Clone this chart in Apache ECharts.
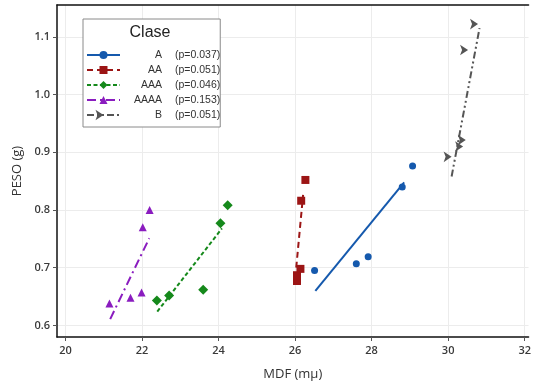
<!DOCTYPE html>
<html>
<head>
<meta charset="utf-8">
<script src="https://cdn.jsdelivr.net/npm/echarts@6/dist/echarts.min.js"></script>
<style>
html, body { margin: 0; padding: 0; background: #fff; }
#main { width: 534px; height: 389px; }
</style>
</head>
<body>
<div id="main"></div>
<script>
// classes, p-values and colours
const classNames = ['A', 'AA', 'AAA', 'AAAA', 'B'];
const pValues = ['(p=0.037)', '(p=0.051)', '(p=0.046)', '(p=0.153)', '(p=0.051)'];

// measured points [MDF, PESO]
const ptsA = [[26.51, 0.695], [27.60, 0.707], [27.91, 0.719], [28.80, 0.840], [29.07, 0.876]];
const ptsAA = [[26.05, 0.677], [26.05, 0.687], [26.14, 0.698], [26.16, 0.816], [26.27, 0.852]];
const ptsAAA = [[22.39, 0.643], [22.71, 0.652], [23.60, 0.662], [24.05, 0.777], [24.24, 0.808]];
const ptsAAAA = [[21.15, 0.638], [21.70, 0.648], [21.99, 0.657], [22.02, 0.770], [22.20, 0.800]];
const ptsB = [[30.09, 0.892], [30.39, 0.910], [30.46, 0.921], [30.52, 1.077], [30.78, 1.122]];

// fitted lines, end points
const fitA = [[26.53, 0.660], [28.85, 0.848]];
const fitAA = [[26.03, 0.700], [26.21, 0.826]];
const fitAAA = [[22.40, 0.624], [24.09, 0.768]];
const fitAAAA = [[21.17, 0.611], [22.19, 0.751]];
const fitB = [[30.09, 0.858], [30.82, 1.115]];

const xTicks = [20, 22, 24, 26, 28, 30, 32];
const yTicks = [0.6, 0.7, 0.8, 0.9, 1.0, 1.1];

const myChart = echarts.init(document.getElementById('main'));

const styles = [
    { color: '#1559ad', symbol: 'circle', size: 7, dash: 'solid', rot: 0 },
    { color: '#9c1515', symbol: 'rect', size: 8, dash: [6, 4], rot: 0 },
    { color: '#15891b', symbol: 'diamond', size: 10, dash: [4, 2.5], rot: 0 },
    { color: '#8a1cbf', symbol: 'triangle', size: 8, dash: [9, 4, 2, 4], rot: 0 },
    { color: '#555555', symbol: 'arrow', size: 8, dash: [7, 3, 2, 3, 2, 3], rot: -90 }
];
const pts = [ptsA, ptsAA, ptsAAA, ptsAAAA, ptsB];
const fits = [fitA, fitAA, fitAAA, fitAAAA, fitB];

const series = [];
classNames.forEach(function (name, i) {
    const s = styles[i];
    series.push({
        name: name,
        type: 'line',
        data: fits[i],
        showSymbol: false,
        symbol: s.symbol,
        symbolRotate: s.rot,
        color: s.color,
        lineStyle: { color: s.color, width: 2, type: s.dash },
        z: 2
    });
});
classNames.forEach(function (name, i) {
    const s = styles[i];
    series.push({
        name: name,
        type: 'scatter',
        data: pts[i],
        symbol: s.symbol,
        symbolSize: s.size,
        symbolRotate: s.rot,
        itemStyle: { color: s.color, opacity: 1 },
        z: 3
    });
});

const labelStyle = {
    color: '#3a3a3a',
    fontSize: 11,
    fontWeight: 600,
    fontFamily: 'Open Sans'
};

const legendText = { fontSize: 10.5, fontFamily: 'Liberation Sans', color: '#333', lineHeight: 12 };

const xMin = 19.78, xMax = 32.10;

const option = {
    animation: false,
    backgroundColor: '#fff',
    title: {
        text: 'Clase',
        left: 150,
        top: 25,
        textAlign: 'center',
        padding: 0,
        textStyle: { fontSize: 16, fontWeight: 'normal', color: '#222', fontFamily: 'Liberation Sans' },
        z: 10
    },
    legend: {
        data: classNames,
        orient: 'vertical',
        left: 83,
        top: 19,
        padding: [30, 0, 6, 3],
        itemGap: 3,
        itemWidth: 33,
        itemHeight: 10,
        backgroundColor: '#fff',
        borderColor: '#8a8a8a',
        borderWidth: 1,
        borderRadius: 0,
        formatter: function (name) {
            return '{n|' + name + '}{p|' + pValues[classNames.indexOf(name)] + '}';
        },
        textStyle: Object.assign({
            rich: {
                n: Object.assign({ width: 37, align: 'right' }, legendText),
                p: Object.assign({ align: 'right', padding: [0, 0, 0, 13] }, legendText)
            }
        }, legendText),
        z: 9
    },
    grid: {
        left: 57,
        top: 5,
        right: 0,
        bottom: 52,
        show: false
    },
    xAxis: [{
        type: 'value',
        min: xMin,
        max: xMax,
        name: 'MDF (mμ)',
        nameLocation: 'middle',
        nameGap: 31,
        nameTextStyle: { color: '#333', fontSize: 13, fontFamily: 'Open Sans' },
        axisLine: { lineStyle: { color: '#111', width: 1.5 } },
        axisTick: { show: true, length: 4, lineStyle: { color: '#555' }, customValues: xTicks },
        axisLabel: Object.assign({ margin: 8, customValues: xTicks }, labelStyle),
        splitLine: { show: true, lineStyle: { color: '#ececec', width: 1 } }
    }, {
        // top frame line only
        type: 'value',
        position: 'top',
        min: xMin,
        max: xMax,
        axisLine: { show: true, lineStyle: { color: '#111', width: 1.5 } },
        axisTick: { show: false },
        axisLabel: { show: false },
        splitLine: { show: false }
    }],
    yAxis: {
        type: 'value',
        min: 0.58,
        max: 1.155,
        name: 'PESO (g)',
        nameLocation: 'middle',
        nameGap: 30,
        nameTextStyle: { color: '#333', fontSize: 13, fontFamily: 'Open Sans' },
        axisLine: { show: true, lineStyle: { color: '#111', width: 1.5 } },
        axisTick: { show: true, length: 4, lineStyle: { color: '#555' }, customValues: yTicks },
        axisLabel: Object.assign({
            margin: 7,
            customValues: yTicks,
            formatter: function (v) { return v.toFixed(1); }
        }, labelStyle),
        splitLine: { show: true, lineStyle: { color: '#ececec', width: 1 } }
    },
    series: series
};

myChart.setOption(option);
</script>
</body>
</html>
